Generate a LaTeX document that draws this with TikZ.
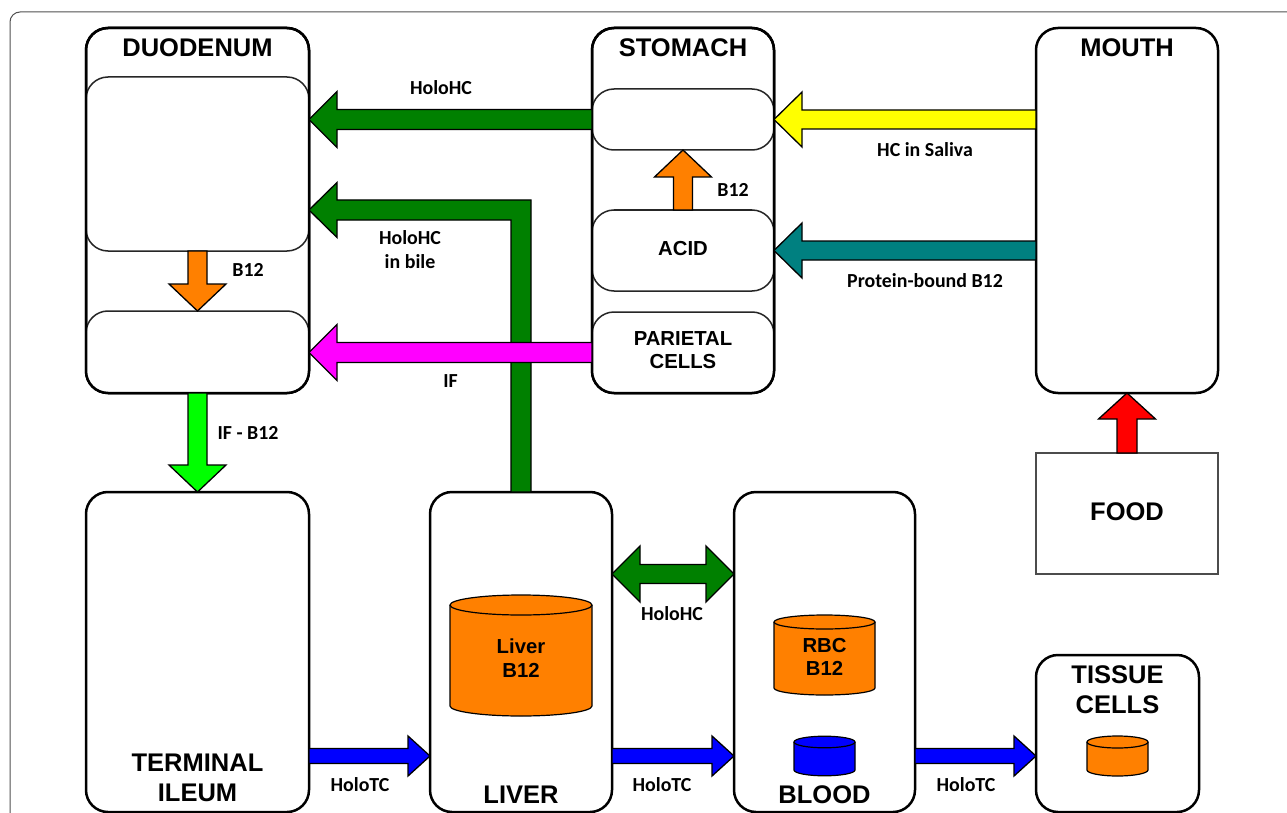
\documentclass[tikz,border=0pt]{standalone}
\usepackage{fontspec}
\setmainfont{Liberation Sans}
\newfontfamily\calfont{Carlito}
\usetikzlibrary{calc}
\definecolor{cOrange}{HTML}{FF8000}
\definecolor{cGreen}{HTML}{008000}
\definecolor{cLime}{HTML}{00FF00}
\definecolor{cPink}{HTML}{FF00FF}
\definecolor{cTeal}{HTML}{008080}
\definecolor{cYellow}{HTML}{FFFF00}
\definecolor{cRed}{HTML}{FF0000}
\definecolor{cBlue}{HTML}{0000FF}
\definecolor{cFrame}{HTML}{505050}
\tikzset{
  bigbox/.style={draw=black, line width=2.5pt, rounded corners=22pt, fill=white, inner sep=0pt, outer sep=0pt},
  bigline/.style={draw=black, line width=2.5pt, rounded corners=22pt},
  innerbox/.style={draw=black!85, line width=1.5pt, rounded corners=22pt, fill=white, inner sep=0pt, outer sep=0pt},
  foodbox/.style={draw=black!70, line width=1.5pt, fill=white, inner sep=0pt, outer sep=0pt},
  title/.style={font=\fontsize{25.5}{30}\selectfont\bfseries, align=center, inner sep=0pt},
  mid/.style={font=\fontsize{20.3}{23.5}\selectfont\bfseries, align=center, inner sep=0pt},
  lab/.style={font=\calfont\fontsize{19.9}{24}\selectfont\bfseries, align=center, inner sep=0pt},
  arrowshape/.style={draw=black, line width=1.3pt, line join=miter},
  cyl/.style={draw=black, line width=1.2pt},
  frame/.style={draw=cFrame, line width=1pt, rounded corners=10pt},
}
% block arrow: [style]{from}{to}{shaft half}{head half}{head length}
\newcommand\blockarrow[6][]{%
  \path let \p1=(#2), \p2=(#3) in \pgfextra{%
    \pgfmathsetmacro\baang{atan2(\y2-\y1,\x2-\x1)}%
    \pgfmathsetmacro\balen{veclen(\x2-\x1,\y2-\y1)}%
    \global\let\baang\baang \global\let\balen\balen};
  \draw[arrowshape,#1,shift={(#2)},rotate=\baang]
    (0pt,-#4pt) -- ({\balen pt-#6pt},-#4pt) -- ({\balen pt-#6pt},-#5pt) -- (\balen pt,0pt)
    -- ({\balen pt-#6pt},#5pt) -- ({\balen pt-#6pt},#4pt) -- (0pt,#4pt) -- cycle;
}
\newcommand\dblarrow[6][]{%
  \path let \p1=(#2), \p2=(#3) in \pgfextra{%
    \pgfmathsetmacro\baang{atan2(\y2-\y1,\x2-\x1)}%
    \pgfmathsetmacro\balen{veclen(\x2-\x1,\y2-\y1)}%
    \global\let\baang\baang \global\let\balen\balen};
  \draw[arrowshape,#1,shift={(#2)},rotate=\baang]
    (0pt,0pt) -- (#6pt,#5pt) -- (#6pt,#4pt) -- ({\balen pt-#6pt},#4pt) -- ({\balen pt-#6pt},#5pt)
    -- (\balen pt,0pt) -- ({\balen pt-#6pt},-#5pt) -- ({\balen pt-#6pt},-#4pt) -- (#6pt,-#4pt)
    -- (#6pt,-#5pt) -- cycle;
}
% cylinder: {cx}{top ellipse centre y}{bottom ellipse centre y}{rx}{ry}{colour}
\newcommand\drawcyl[6]{%
  \fill[#6] (#1-#4,#2) rectangle (#1+#4,#3);
  \draw[cyl, fill=#6] (#1-#4,#2) -- (#1-#4,#3)
     arc[start angle=180, end angle=360, x radius=#4pt, y radius=#5pt] -- (#1+#4,#2);
  \draw[cyl, fill=#6] (#1,#2) ellipse [x radius=#4pt, y radius=#5pt];
}
\begin{document}
\begin{tikzpicture}[x=1pt,y=-1pt]
\useasboundingbox (0,0) rectangle (1287,813);
\clip (0,0) rectangle (1287,813);
\fill[white] (0,0) rectangle (1287,813);
\draw[frame] (10,12) rectangle (1330,860);

% outer boxes
\node[bigbox, minimum width=223pt, minimum height=365pt] (duo) at (197.5,210.5) {};
\node[bigbox, minimum width=182pt, minimum height=365pt] (sto) at (683,210.5) {};
\node[bigbox, minimum width=182pt, minimum height=365pt] (mouth) at (1127,210.5) {};
\node[bigbox, minimum width=223pt, minimum height=320pt] (ileum) at (197.5,652) {};
\node[bigbox, minimum width=182pt, minimum height=320pt] (liver) at (521,652) {};
\node[bigbox, minimum width=181pt, minimum height=320pt] (blood) at (824.5,652) {};
\node[bigbox, minimum width=163pt, minimum height=157pt] (tissue) at (1117.5,733.5) {};
\node[foodbox, minimum width=182pt, minimum height=121pt] (food) at (1127,513.5) {};

% inner boxes
\node[innerbox, minimum width=223pt, minimum height=174pt] (duoU) at (197.5,164) {};
\node[innerbox, minimum width=223pt, minimum height=82pt] (duoL) at (197.5,352) {};
\node[innerbox, minimum width=182pt, minimum height=61pt] (stU) at (683,119.5) {};
\node[innerbox, minimum width=182pt, minimum height=81pt] (acid) at (683,250.5) {};
\node[innerbox, minimum width=182pt, minimum height=81pt] (par) at (683,352.5) {};

% outer borders on top
\draw[bigline] (duo.north west) rectangle (duo.south east);
\draw[bigline] (sto.north west) rectangle (sto.south east);

% titles and texts
\node[title] (tDuo) at (197.5,48) {DUODENUM};
\node[title] (tSto) at (683,48) {STOMACH};
\node[title] (tMouth) at (1127,48) {MOUTH};
\node[title] (tFood) at (1127,512) {FOOD};
\node[title] (tIleum) at (197.5,778) {TERMINAL\\ILEUM};
\node[title] (tLiver) at (521,795) {LIVER};
\node[title] (tBlood) at (824.5,795) {BLOOD};
\node[title] (tTissue) at (1117.5,690) {TISSUE\\CELLS};
\node[mid] (tAcid) at (683,249) {ACID};
\node[mid] (tPar) at (683,350) {PARIETAL\\CELLS};

% cylinders
\drawcyl{521}{605}{706}{71}{10}{cOrange}
\node[mid] (tLivB) at (521,658) {Liver\\B12};
\drawcyl{824.5}{622}{688}{50.5}{7}{cOrange}
\node[mid] (tRbc) at (824.5,657) {RBC\\B12};
\drawcyl{824.5}{742}{770}{30.5}{5.8}{cBlue}
\drawcyl{1117.5}{742}{770}{30.5}{6}{cOrange}

% connectors
\coordinate (tcY) at (0,756);
\coordinate (hcY) at (0,574);
\coordinate (bileTip) at ($(duoU.east)+(0,46)$);

\blockarrow[fill=cGreen]{stU.west}{duoU.east |- stU.west}{10}{28}{28}
\blockarrow[fill=cYellow]{mouth.west |- stU.east}{stU.east}{9.5}{27.5}{28}
\blockarrow[fill=cTeal]{mouth.west |- acid.east}{acid.east}{9.5}{27.5}{28}
\blockarrow[fill=cOrange]{acid.north}{stU.south}{9.5}{28.5}{27}
\blockarrow[fill=cOrange]{duoU.south}{duoL.north}{9.5}{28.5}{27}
\blockarrow[fill=cLime]{duoL.south}{ileum.north}{9.5}{28.5}{27}
\blockarrow[fill=cRed]{food.north}{mouth.south}{10}{28.5}{26}

\draw[arrowshape, fill=cGreen] ($(liver.north)+(-10,0)$) |- ($(bileTip)+(28,10)$)
  -- ($(bileTip)+(28,27.5)$) -- (bileTip) -- ($(bileTip)+(28,-27.5)$)
  -- ($(bileTip)+(28,-10)$) -| ($(liver.north)+(10,0)$) -- cycle;

\blockarrow[fill=cPink]{par.west}{duoL.east |- par.west}{10}{28}{28}

\dblarrow[fill=cGreen]{liver.east |- hcY}{blood.west |- hcY}{9.5}{28}{28}

\blockarrow[fill=cBlue]{ileum.east |- tcY}{liver.west |- tcY}{7.5}{20}{22}
\blockarrow[fill=cBlue]{liver.east |- tcY}{blood.west |- tcY}{7.5}{20}{22}
\blockarrow[fill=cBlue]{blood.east |- tcY}{tissue.west |- tcY}{7.5}{20}{22}

% connector labels
\node[lab] (lHoloHC1) at (441,88) {HoloHC};
\node[lab] (lSaliva) at (925,150) {HC in Saliva};
\node[lab] (lB12a) at (733,190) {B12};
\node[lab] (lProt) at (925,281) {Protein-bound B12};
\node[lab] (lBile) at (410,250) {HoloHC\\in bile};
\node[lab] (lB12b) at (248,270) {B12};
\node[lab] (lIF) at (450.5,381.5) {IF};
\node[lab] (lIFB) at (248,433) {IF - B12};
\node[lab] (lHoloHC2) at (672,614) {HoloHC};
\node[lab] (lTC1) at (360,785) {HoloTC};
\node[lab] (lTC2) at (662,785) {HoloTC};
\node[lab] (lTC3) at (966,785) {HoloTC};
\end{tikzpicture}
\end{document}
